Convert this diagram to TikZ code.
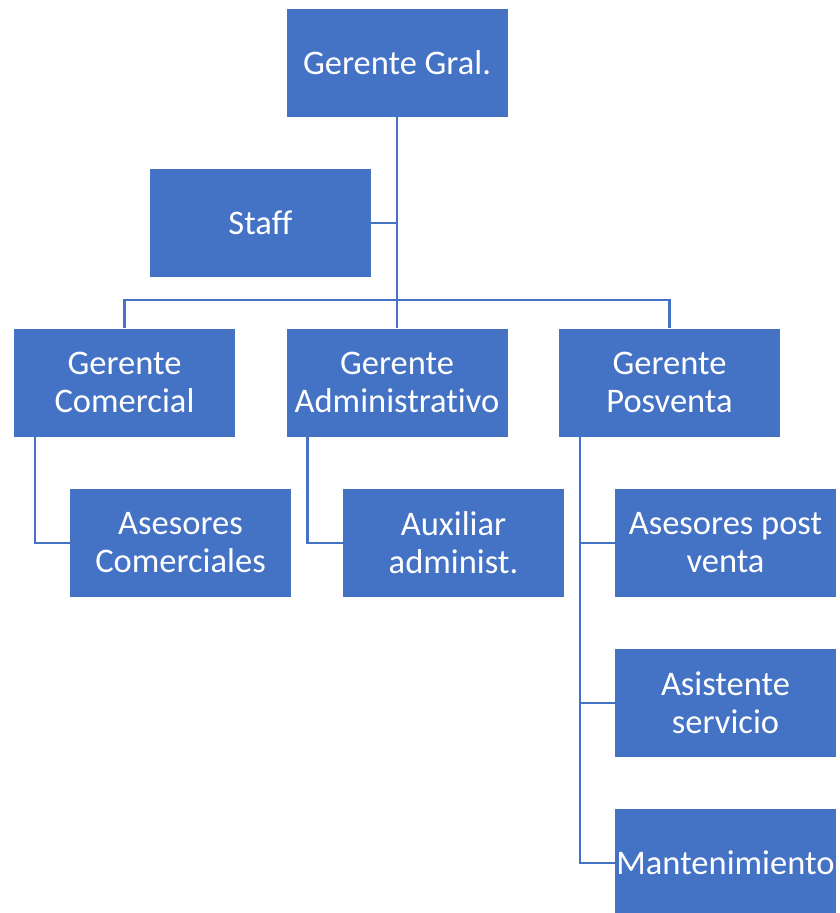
\documentclass[tikz,border=0pt]{standalone}
\usepackage{fontspec}
\setmainfont[RawFeature={-liga;-clig;-dlig}]{Carlito}
\usepackage{tikz}
\definecolor{officeblue}{HTML}{4472C4}

\begin{document}
\begin{tikzpicture}[
    x=1pt, y=-1pt,
    box/.style={rectangle, fill=officeblue, text=white, inner sep=0pt, minimum height=108pt, minimum width=221pt, font=\fontsize{34.5}{38}\selectfont, align=center},
    link/.style={draw=officeblue, line width=2.5pt}
]
    \useasboundingbox (0,0) rectangle (839,913);
    \node[box] (gral) at (397,63) {Gerente Gral.};
    \node[box] (staff) at (260.5,223) {Staff};
    \node[box] (gcom) at (124.5,382.5) {Gerente\\Comercial};
    \node[box] (gadm) at (397,382.5) {Gerente\\Administrativo};
    \node[box] (gpos) at (669.5,382.5) {Gerente\\Posventa};
    \node[box] (ascom) at (180.5,543) {Asesores\\Comerciales};
    \node[box] (aux) at (453.5,543) {Auxiliar\\administ.};
    \node[box] (aspv) at (725.5,543) {Asesores post\\venta};
    \node[box] (asis) at (725.5,703) {Asistente\\servicio};
    \node[box] (mant) at (725.5,863) {Mantenimiento};

    \coordinate (bar) at (397,300);

    \draw[link] (gral.south) -- (gadm.north);
    \draw[link] (staff.east) -- (staff.east -| gral.south);
    \draw[link] (gcom.north) |- (bar) -| (gpos.north);
    \draw[link] ([xshift=21pt]gcom.south west) |- (ascom.west);
    \draw[link] ([xshift=21pt]gadm.south west) |- (aux.west);
    \draw[link] ([xshift=21pt]gpos.south west) |- (mant.west);
    \draw[link] ([xshift=21pt]gpos.south west) |- (aspv.west);
    \draw[link] ([xshift=21pt]gpos.south west) |- (asis.west);
\end{tikzpicture}
\end{document}
